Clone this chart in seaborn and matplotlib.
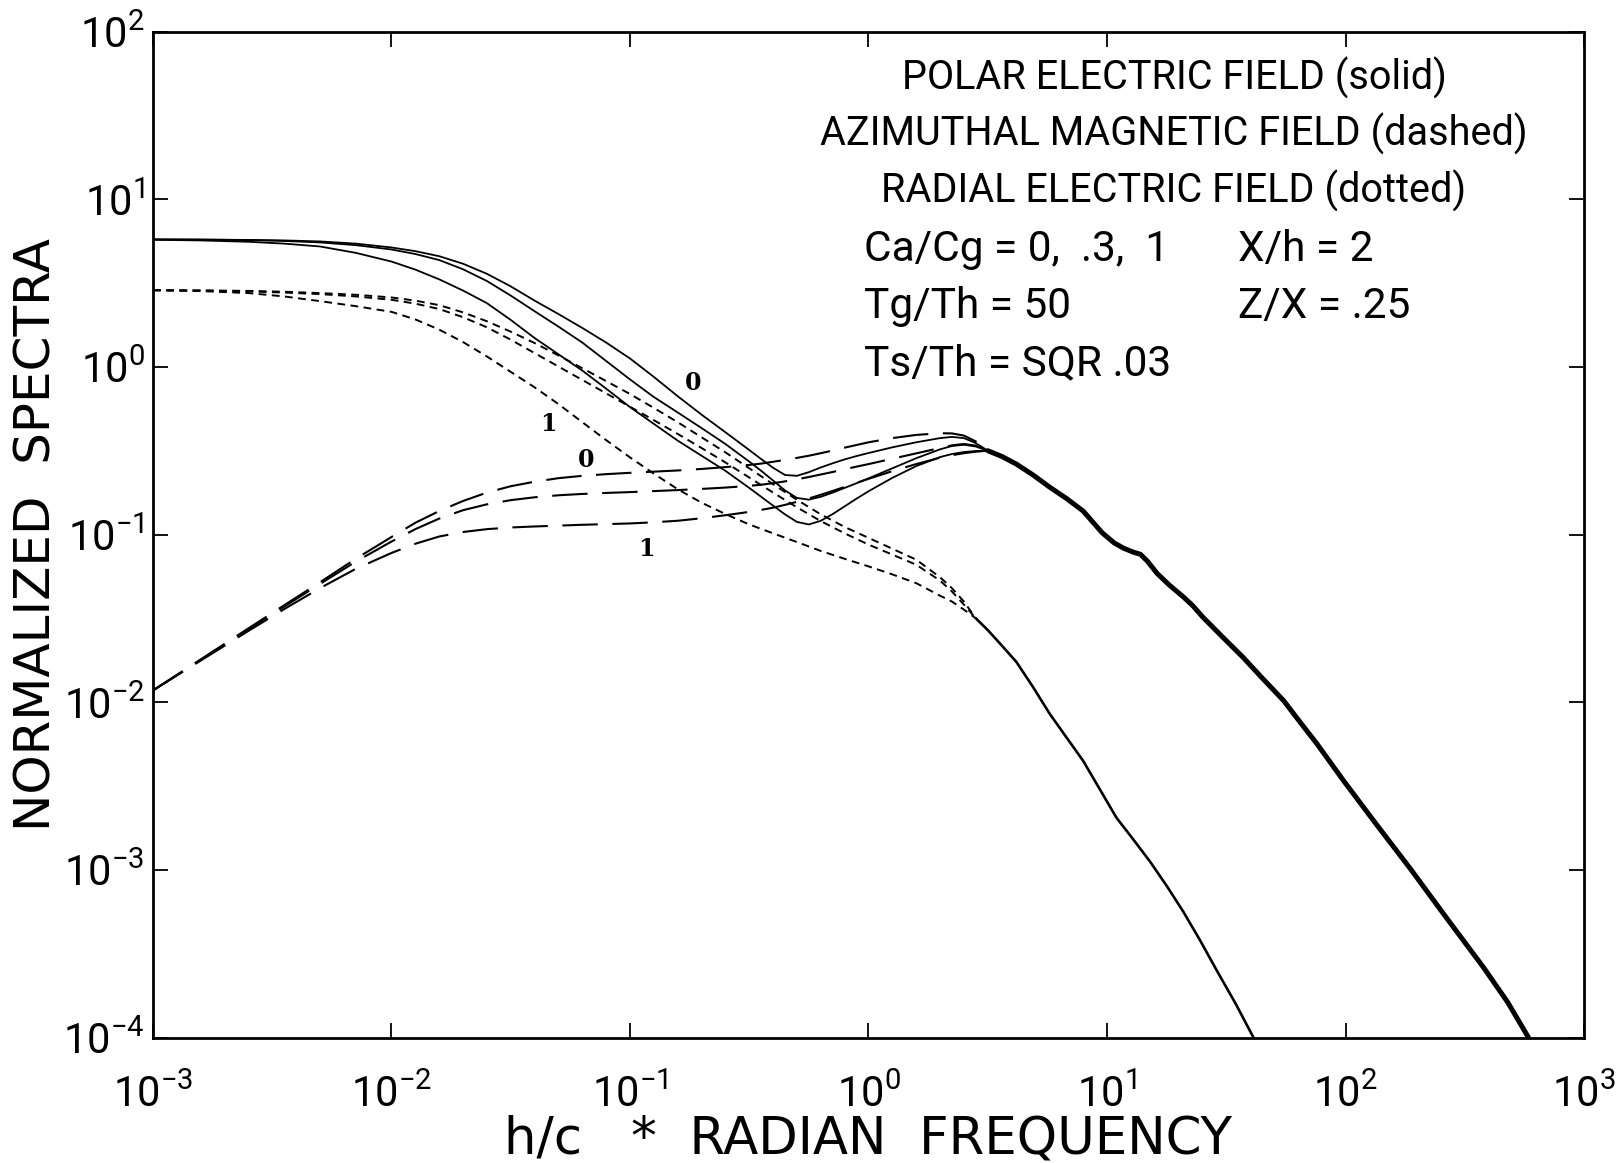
import numpy as np
import matplotlib
matplotlib.use("Agg")
import matplotlib.pyplot as plt
import seaborn as sns
from matplotlib.ticker import FixedLocator, FuncFormatter, NullLocator

# ---------------- data (log10 values) ----------------
# common low-frequency grid for solid (polar E) and dashed (azimuthal B) curves
lf_log10 = [-3.0, -2.8, -2.6, -2.45, -2.3, -2.15, -2.0, -1.9, -1.8, -1.7, -1.6, -1.5, -1.4, -1.3,
            -1.2, -1.1, -1.0, -0.9, -0.8, -0.7, -0.6, -0.5, -0.45, -0.4, -0.35, -0.3, -0.25, -0.2,
            -0.15, -0.1, -0.05, 0.0, 0.1, 0.2, 0.3, 0.35, 0.4, 0.45, 0.5]

# polar electric field (solid), Ca/Cg = 0, .3, 1
polar_ca0 = [0.760, 0.759, 0.757, 0.754, 0.748, 0.735, 0.712, 0.690, 0.660, 0.615, 0.555, 0.480,
             0.395, 0.315, 0.232, 0.145, 0.050, -0.060, -0.175, -0.285, -0.390, -0.496, -0.550,
             -0.602, -0.645, -0.650, -0.628, -0.600, -0.575, -0.552, -0.532, -0.514, -0.480,
             -0.450, -0.425, -0.418, -0.425, -0.455, -0.500]
polar_ca03 = [0.760, 0.759, 0.756, 0.751, 0.742, 0.726, 0.700, 0.673, 0.637, 0.582, 0.512, 0.425,
              0.332, 0.240, 0.145, 0.035, -0.075, -0.180, -0.272, -0.365, -0.460, -0.565, -0.620,
              -0.678, -0.737, -0.782, -0.792, -0.775, -0.750, -0.722, -0.694, -0.665, -0.605,
              -0.545, -0.492, -0.472, -0.465, -0.475, -0.500]
polar_ca1 = [0.758, 0.754, 0.746, 0.735, 0.718, 0.680, 0.628, 0.580, 0.522, 0.455, 0.380, 0.280,
             0.172, 0.075, -0.022, -0.130, -0.240, -0.340, -0.440, -0.530, -0.620, -0.722, -0.775,
             -0.828, -0.880, -0.925, -0.940, -0.918, -0.878, -0.832, -0.786, -0.742, -0.662,
             -0.592, -0.538, -0.520, -0.508, -0.502, -0.500]

# azimuthal magnetic field (dashed), Ca/Cg = 0, .3, 1
azim_ca0 = [-1.930, -1.745, -1.560, -1.422, -1.285, -1.145, -1.015, -0.930, -0.860, -0.800, -0.750,
            -0.712, -0.685, -0.664, -0.650, -0.640, -0.632, -0.625, -0.618, -0.609, -0.598, -0.585,
            -0.577, -0.566, -0.555, -0.543, -0.530, -0.515, -0.499, -0.482, -0.466, -0.450, -0.425,
            -0.406, -0.396, -0.397, -0.410, -0.445, -0.500]
azim_ca03 = [-1.930, -1.748, -1.565, -1.430, -1.295, -1.162, -1.042, -0.968, -0.905, -0.855, -0.820,
             -0.795, -0.778, -0.766, -0.758, -0.752, -0.747, -0.741, -0.735, -0.728, -0.720, -0.710,
             -0.703, -0.694, -0.683, -0.671, -0.657, -0.642, -0.627, -0.611, -0.595, -0.580, -0.548,
             -0.516, -0.484, -0.468, -0.460, -0.470, -0.500]
azim_ca1 = [-1.930, -1.752, -1.575, -1.445, -1.320, -1.205, -1.110, -1.055, -1.012, -0.985, -0.968,
            -0.958, -0.952, -0.947, -0.942, -0.938, -0.934, -0.927, -0.918, -0.903, -0.885, -0.865,
            -0.853, -0.840, -0.823, -0.805, -0.785, -0.763, -0.740, -0.716, -0.692, -0.668, -0.622,
            -0.580, -0.542, -0.527, -0.515, -0.506, -0.500]

# radial electric field (dotted), Ca/Cg = 0, .3, 1
rad_log10 = [-3.0, -2.8, -2.6, -2.45, -2.3, -2.15, -2.0, -1.9, -1.8, -1.7, -1.6, -1.5, -1.4, -1.3,
             -1.2, -1.1, -1.0, -0.9, -0.8, -0.7, -0.6, -0.5, -0.4, -0.3, -0.2, -0.1, 0.0, 0.1, 0.2,
             0.3, 0.35, 0.4, 0.45]
radial_ca0 = [0.457, 0.456, 0.453, 0.448, 0.440, 0.430, 0.414, 0.395, 0.368, 0.325, 0.272, 0.210,
              0.142, 0.068, -0.008, -0.085, -0.162, -0.245, -0.330, -0.420, -0.510, -0.605, -0.700,
              -0.793, -0.880, -0.955, -1.020, -1.085, -1.150, -1.255, -1.320, -1.400, -1.500]
radial_ca03 = [0.457, 0.455, 0.450, 0.443, 0.434, 0.420, 0.400, 0.377, 0.345, 0.296, 0.236, 0.162,
               0.082, 0.002, -0.078, -0.158, -0.238, -0.318, -0.400, -0.484, -0.570, -0.660, -0.750,
               -0.838, -0.920, -0.993, -1.060, -1.120, -1.180, -1.275, -1.340, -1.418, -1.500]
radial_ca1 = [0.457, 0.452, 0.440, 0.420, 0.392, 0.362, 0.328, 0.283, 0.222, 0.148, 0.062, -0.030,
              -0.122, -0.222, -0.330, -0.437, -0.540, -0.637, -0.730, -0.810, -0.878, -0.940, -0.993,
              -1.045, -1.098, -1.145, -1.190, -1.238, -1.290, -1.365, -1.400, -1.448, -1.500]

# common high-frequency tails
thick_log10 = [0.50, 0.56, 0.62, 0.69, 0.76, 0.83, 0.90, 0.94, 0.98, 1.03, 1.07, 1.11, 1.14, 1.17,
               1.21, 1.26, 1.32, 1.36, 1.40, 1.48, 1.57, 1.65, 1.74, 1.81, 1.88, 1.99, 2.13, 2.27,
               2.42, 2.58, 2.68, 2.767]
thick_tail = [-0.500, -0.535, -0.580, -0.645, -0.718, -0.785, -0.860, -0.925, -0.990, -1.050, -1.082,
              -1.105, -1.118, -1.160, -1.232, -1.300, -1.372, -1.425, -1.490, -1.605, -1.732, -1.855,
              -1.990, -2.120, -2.248, -2.465, -2.730, -2.990, -3.280, -3.585, -3.790, -4.0]
thin_log10 = [0.45, 0.50, 0.55, 0.62, 0.69, 0.76, 0.83, 0.90, 0.97, 1.04, 1.10, 1.18, 1.25, 1.32,
              1.39, 1.46, 1.54, 1.614]
thin_tail = [-1.500, -1.570, -1.648, -1.760, -1.910, -2.070, -2.210, -2.350, -2.520, -2.690, -2.800,
             -2.950, -3.095, -3.250, -3.420, -3.600, -3.800, -4.0]

decades = [-3, -2, -1, 0, 1, 2, 3]
y_decades = [-4, -3, -2, -1, 0, 1, 2]

info_lines = ["POLAR ELECTRIC FIELD (solid)",
              "AZIMUTHAL MAGNETIC FIELD (dashed)",
              "RADIAL ELECTRIC FIELD (dotted)"]
param_left = ["Ca/Cg = 0,  .3,  1", "Tg/Th = 50", "Ts/Th = SQR .03"]
param_right = ["X/h = 2", "Z/X = .25"]
curve_labels = [("0", -0.736, -0.099), ("1", -1.344, -0.343),
                ("0", -1.182, -0.558), ("1", -0.931, -1.084)]

# ---------------- styling ----------------
sns.set_theme(style="ticks")
plt.rcParams['font.family'] = ['DejaVu Sans']
plt.rcParams['mathtext.fontset'] = 'custom'
plt.rcParams['mathtext.rm'] = 'Roboto'
plt.rcParams['mathtext.it'] = 'Roboto'
plt.rcParams['mathtext.bf'] = 'Roboto'
text_font = ['Roboto', 'DejaVu Sans']

fig = plt.figure(figsize=(16.22, 11.63), dpi=100)
ax = fig.add_axes([0.0943, 0.1079, 0.8823, 0.865])
ax.set_xscale('log')
ax.set_yscale('log')
ax.set_xlim(1e-3, 1e3)
ax.set_ylim(1e-4, 1e2)


def draw(lx, ly, lw, ls):
    sns.lineplot(x=10.0 ** np.asarray(lx), y=10.0 ** np.asarray(ly), ax=ax, sort=False,
                 estimator=None, color='black', linewidth=lw, linestyle=ls)


solid = '-'
dashed = (0, (17, 7))
dotted = (0, (4, 2.8))

for ys in (polar_ca0, polar_ca03, polar_ca1):
    draw(lf_log10, ys, 1.3, solid)
for ys in (azim_ca0, azim_ca03, azim_ca1):
    draw(lf_log10, ys, 1.5, dashed)
for ys in (radial_ca0, radial_ca03, radial_ca1):
    draw(rad_log10, ys, 1.4, dotted)
draw(thick_log10, thick_tail, 3.6, solid)
draw(thin_log10, thin_tail, 1.9, solid)

# axes decoration
ax.xaxis.set_major_locator(FixedLocator([10.0 ** d for d in decades]))
ax.yaxis.set_major_locator(FixedLocator([10.0 ** d for d in y_decades]))
ax.xaxis.set_minor_locator(NullLocator())
ax.yaxis.set_minor_locator(NullLocator())
fmt = FuncFormatter(lambda v, p: r'$\mathrm{10}^{\mathrm{%d}}$' % int(round(np.log10(v))))
ax.xaxis.set_major_formatter(fmt)
ax.yaxis.set_major_formatter(fmt)
ax.tick_params(which='major', direction='in', length=11, width=1.3, top=True, right=True,
               labelsize=30, colors='black')
ax.tick_params(axis='x', pad=26)
ax.tick_params(axis='y', pad=6)
for sp in ax.spines.values():
    sp.set_linewidth(2.0)
    sp.set_color('black')
ax.grid(False)

ax.set_xlabel('h/c   *  RADIAN  FREQUENCY', fontsize=37, color='black', va='center')
ax.xaxis.set_label_coords(0.5, -0.101)
ax.set_ylabel('NORMALIZED  SPECTRA', fontsize=36, color='black', va='center')
ax.yaxis.set_label_coords(-0.0815, 0.5)

# annotation block
for txt, yb in zip(info_lines, [0.9423, 0.8862, 0.8295]):
    ax.text(0.7135, yb, txt, transform=ax.transAxes, ha='center', va='baseline',
            fontsize=28.5, family=text_font, color='black')
for txt, yb in zip(param_left, [0.7719, 0.7153, 0.6586]):
    ax.text(0.497, yb, txt, transform=ax.transAxes, ha='left', va='baseline',
            fontsize=30.5, family=text_font, color='black')
for txt, yb in zip(param_right, [0.7719, 0.7153]):
    ax.text(0.758, yb, txt, transform=ax.transAxes, ha='left', va='baseline',
            fontsize=30.5, family=text_font, color='black')

for txt, lx, ly in curve_labels:
    ax.text(10.0 ** lx, 10.0 ** ly, txt, ha='center', va='center', fontsize=17,
            fontweight='bold', family=['DejaVu Serif'], color='black')

fig.savefig('out.png', dpi=100, facecolor='white')
